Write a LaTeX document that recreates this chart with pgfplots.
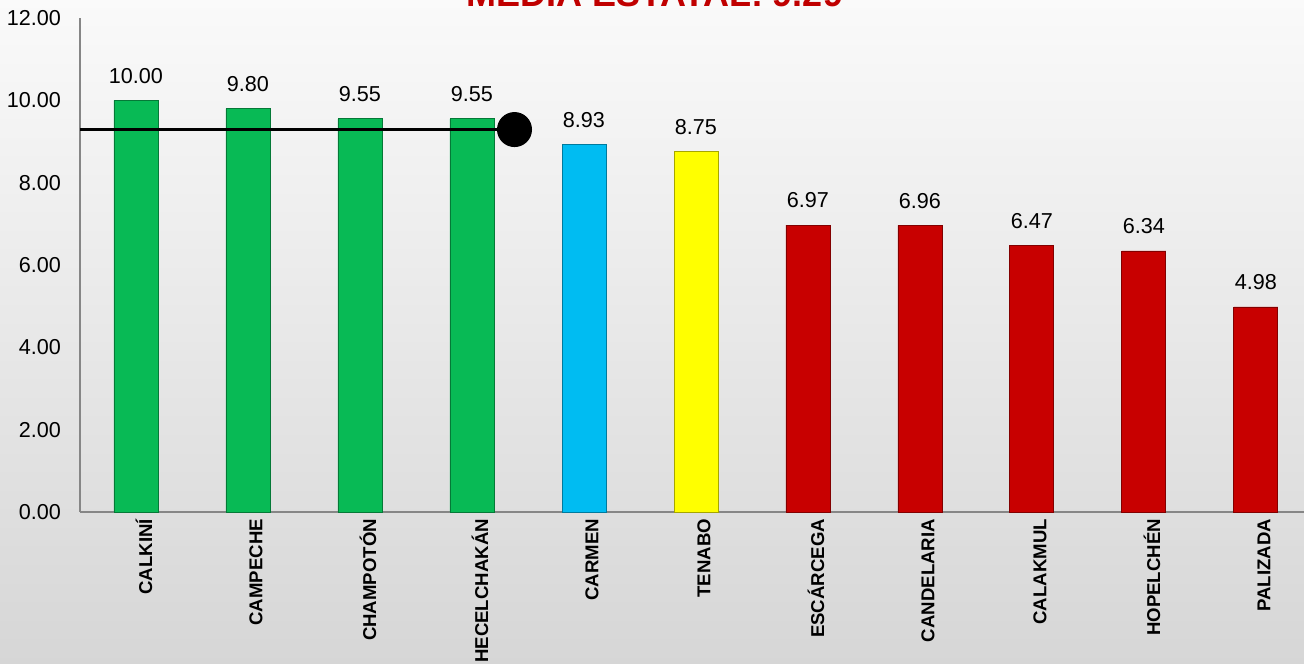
\documentclass[border=0pt]{standalone}
\usepackage{pgfplots}
\pgfplotsset{compat=1.18}
\usepackage{fontspec}
\setmainfont{Liberation Sans}

\definecolor{barGreen}{HTML}{08BA55}
\definecolor{barBlue}{HTML}{00BCF2}
\definecolor{barYellow}{HTML}{FFFF00}
\definecolor{barRed}{HTML}{C80000}
\definecolor{axisGray}{HTML}{868686}
\definecolor{titleRed}{HTML}{C00000}

\begin{document}
\begin{tikzpicture}
% page = 1304x663 px at 0.5pt per px
\useasboundingbox (0,0) rectangle (652pt,331.5pt);
\clip (0,0) rectangle (652pt,331.5pt);
\shade[top color=black!2, bottom color=black!16] (0,0) rectangle (652pt,331.5pt);
\node[anchor=base, font=\fontsize{18}{20}\selectfont\bfseries, text=titleRed]
  at (327.5pt,328pt) {MEDIA ESTATAL: 9.29};
\begin{axis}[
    at={(40pt,75.5pt)}, anchor=south west,
    scale only axis,
    width=612pt, height=247pt,
    ybar, bar width=22pt,
    xmin=-0.5, xmax=10.43,
    ymin=0, ymax=12,
    ytick={0,2,...,12},
    xtick={0,...,10},
    xticklabels={CALKINÍ,CAMPECHE,CHAMPOTÓN,HECELCHAKÁN,CARMEN,TENABO,ESCÁRCEGA,CANDELARIA,CALAKMUL,HOPELCHÉN,PALIZADA},
    major tick length=0pt,
    axis x line*=bottom, axis y line*=left,
    axis line style={axisGray, line width=0.8pt},
    x axis line style={-}, y axis line style={-},
    tick label style={font=\fontsize{10.8}{12}\selectfont},
    xticklabel style={rotate=90, anchor=east, yshift=-4pt,
                      font=\fontsize{9.3}{10}\selectfont\bfseries},
    yticklabel style={xshift=-6pt, /pgf/number format/.cd, fixed, zerofill, precision=2},
    /pgf/number format/assume math mode=true,
    nodes near coords={\pgfmathprintnumber[fixed,zerofill,precision=2]{\pgfplotspointmeta}},
    every node near coord/.append style={font=\fontsize{10.8}{12}\selectfont, yshift=5pt},
    clip=false,
]
\addplot[bar shift=0pt, fill=barGreen, draw=barGreen!65!black]
  coordinates {(0,10.00) (1,9.80) (2,9.55) (3,9.55)};
\addplot[bar shift=0pt, fill=barBlue, draw=barBlue!65!black]
  coordinates {(4,8.93)};
\addplot[bar shift=0pt, fill=barYellow, draw=barYellow!65!black]
  coordinates {(5,8.75)};
\addplot[bar shift=0pt, fill=barRed, draw=barRed!65!black]
  coordinates {(6,6.97) (7,6.96) (8,6.47) (9,6.34) (10,4.98)};
\addplot[sharp plot, black, line width=1.5pt, mark=*, mark size=8pt,
         mark indices={2}, nodes near coords={}]
  coordinates {(-0.5,9.29) (3.38,9.29)};
\end{axis}
\end{tikzpicture}
\end{document}
